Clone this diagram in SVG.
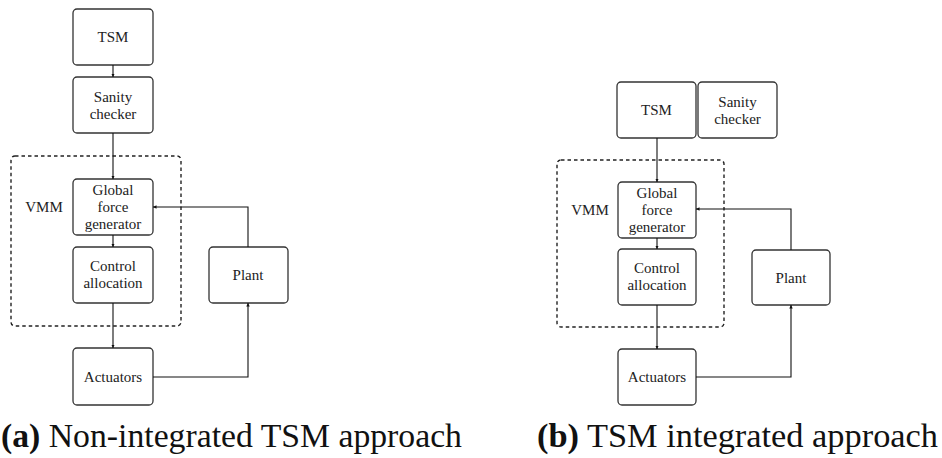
<svg xmlns="http://www.w3.org/2000/svg" width="942" height="458" viewBox="0 0 942 458">
<defs>
<style>
.box{fill:#fff;stroke:#333;stroke-width:1.3}
.dash{fill:none;stroke:#222;stroke-width:1.4;stroke-dasharray:3.5 3}
.lbl{font-family:"Liberation Serif","Times New Roman",serif;font-size:15px;fill:#222;text-anchor:middle}
.cap{font-family:"Liberation Serif","Times New Roman",serif;font-size:33px;fill:#111}
.conn{fill:none;stroke:#111;stroke-width:1.1}
</style>
<marker id="ah" viewBox="0 0 6 6" refX="6" refY="3" markerWidth="3.5" markerHeight="3.5" orient="auto" markerUnits="userSpaceOnUse">
<path d="M0,0 L6,3 L0,6 z" fill="#111"/>
</marker>
</defs>
<rect width="942" height="458" fill="#fff"/>
<!-- Panel (a) -->
<g id="a-vmm">
<rect class="dash" x="11" y="156" width="170" height="170" rx="4"/>
<text class="lbl" x="44" y="212">VMM</text>
</g>
<g id="a-tsm"><rect class="box" x="73" y="9" width="80" height="56" rx="4"/><text class="lbl" x="113" y="42">TSM</text></g>
<g id="a-sanity"><rect class="box" x="73" y="77" width="80" height="56" rx="4"/><text class="lbl" x="113" y="102">Sanity</text><text class="lbl" x="113" y="119">checker</text></g>
<g id="a-global"><rect class="box" x="73" y="179" width="80" height="56" rx="4"/><text class="lbl" x="113" y="195">Global</text><text class="lbl" x="113" y="212">force</text><text class="lbl" x="113" y="229">generator</text></g>
<g id="a-control"><rect class="box" x="73" y="247" width="80" height="56" rx="4"/><text class="lbl" x="113" y="271">Control</text><text class="lbl" x="113" y="288">allocation</text></g>
<g id="a-actuators"><rect class="box" x="73" y="348" width="80" height="57" rx="4"/><text class="lbl" x="113" y="382">Actuators</text></g>
<g id="a-plant"><rect class="box" x="209" y="247" width="79" height="56" rx="4"/><text class="lbl" x="248" y="280">Plant</text></g>

<!-- Panel (b) -->
<g id="b-vmm">
<rect class="dash" x="557" y="160" width="167" height="167" rx="4"/>
<text class="lbl" x="590" y="215">VMM</text>
</g>
<g id="b-tsm"><rect class="box" x="617" y="82" width="79" height="56" rx="4"/><text class="lbl" x="656.5" y="115">TSM</text></g>
<g id="b-sanity"><rect class="box" x="698" y="82" width="79" height="56" rx="4"/><text class="lbl" x="737.5" y="107">Sanity</text><text class="lbl" x="737.5" y="124">checker</text></g>
<g id="b-global"><rect class="box" x="618" y="182" width="78" height="56" rx="4"/><text class="lbl" x="657" y="198">Global</text><text class="lbl" x="657" y="215">force</text><text class="lbl" x="657" y="232">generator</text></g>
<g id="b-control"><rect class="box" x="618" y="249" width="78" height="56" rx="4"/><text class="lbl" x="657" y="273">Control</text><text class="lbl" x="657" y="290">allocation</text></g>
<g id="b-actuators"><rect class="box" x="618" y="349" width="78" height="56" rx="4"/><text class="lbl" x="657" y="382">Actuators</text></g>
<g id="b-plant"><rect class="box" x="752" y="250" width="78" height="55" rx="4"/><text class="lbl" x="791" y="283">Plant</text></g>

<g id="connectors">
<path class="conn" d="M113,65 V77" marker-end="url(#ah)"/>
<path class="conn" d="M113,133 V179" marker-end="url(#ah)"/>
<path class="conn" d="M113,235 V247" marker-end="url(#ah)"/>
<path class="conn" d="M113,303 V348" marker-end="url(#ah)"/>
<path class="conn" d="M153,377 H248 V303" marker-end="url(#ah)"/>
<path class="conn" d="M248,247 V207 H153" marker-end="url(#ah)"/>

<path class="conn" d="M657,138 V182" marker-end="url(#ah)"/>
<path class="conn" d="M657,238 V249" marker-end="url(#ah)"/>
<path class="conn" d="M657,305 V349" marker-end="url(#ah)"/>
<path class="conn" d="M696,377 H791 V305" marker-end="url(#ah)"/>
<path class="conn" d="M791,250 V209 H696" marker-end="url(#ah)"/>
</g>

<g id="captions">
<text class="cap" x="1" y="447" textLength="461" lengthAdjust="spacingAndGlyphs"><tspan font-weight="bold">(a)</tspan> Non-integrated TSM approach</text>
<text class="cap" x="537" y="447" textLength="401" lengthAdjust="spacingAndGlyphs"><tspan font-weight="bold">(b)</tspan> TSM integrated approach</text>
</g>
</svg>
